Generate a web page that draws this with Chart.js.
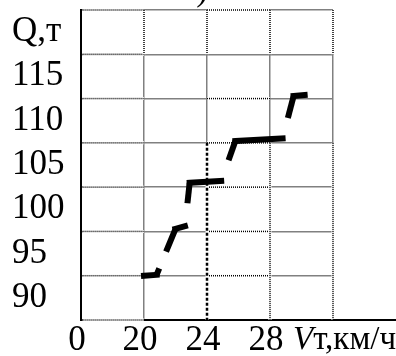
<!DOCTYPE html>
<html>
<head>
<meta charset="utf-8">
<script src="https://cdn.jsdelivr.net/npm/chart.js@4/dist/chart.umd.min.js"></script>
<style>
    html, body { margin: 0; padding: 0; background: #fff; }
    #wrap { width: 396px; height: 356px; }
</style>
</head>
<body>
<div id="wrap"><canvas id="q_v_graph"></canvas></div>
<script>
// скорость (км/ч) и масса (т) в изломах ступенчатой линии
const speed_kmh = [20.0, 20.8, 22.0, 22.6, 22.9, 24.9, 25.8, 28.8, 29.5, 30.2];
const mass_t    = [90.0, 90.1, 95.3, 95.6, 100.5, 100.7, 105.2, 105.5, 110.3, 110.4];

// ось x разорвана: первая линия сетки подписана "0"
const x_ticks  = [16, 20, 24, 28, 32];
const x_labels = ["0", "20", "24", "28", ""];
const y_ticks  = [85, 90, 95, 100, 105, 110, 115, 120];
const y_labels = ["", "90", "95", "100", "105", "110", "115", "Q,т"];

// штрихи на наклонных участках (горизонтальные сплошные)
const slope_dash = [[], [7, 18, 60], [], [0, 23, 60], [], [0, 22, 60], [], [0, 21, 60], []];

const FONT = { family: "'Liberation Serif', 'Times New Roman', serif", size: 35 };

const paper_plugin = {
    id: "paper",
    beforeDatasetsDraw(chart) {
        const ctx = chart.ctx;
        const sx = chart.scales.x, sy = chart.scales.y;
        function dotted(x1, y1, x2, y2, w, dash) {
            const a = [sx.getPixelForValue(x1), sy.getPixelForValue(y1)];
            const b = [sx.getPixelForValue(x2), sy.getPixelForValue(y2)];
            ctx.save();
            ctx.strokeStyle = "#fff";
            ctx.lineWidth = 3;
            ctx.beginPath(); ctx.moveTo(a[0], a[1]); ctx.lineTo(b[0], b[1]); ctx.stroke();
            ctx.strokeStyle = "#000";
            ctx.lineWidth = w;
            ctx.setLineDash(dash);
            ctx.beginPath(); ctx.moveTo(a[0], a[1]); ctx.lineTo(b[0], b[1]); ctx.stroke();
            ctx.restore();
        }
        // левый столбец: пунктирные горизонтали
        for (let v of y_ticks) {
            dotted(16.1, v, 20, v, 1.5, [1, 1]);
        }
        // верхний ряд: пунктирные вертикали
        for (let v of [20, 24, 28, 32]) {
            dotted(v, 120, v, 115, 1.5, [1, 1]);
        }
        // столбец 24-28
        for (let v of [90, 95, 100, 105, 110, 120]) {
            dotted(24, v, 28, v, 1.5, [1, 1]);
        }
        dotted(24, 105, 24, 85, 2.5, [3, 2]);
        dotted(28, 105, 28, 85, 1.5, [1, 1]);
        dotted(32, 105, 32, 85, 1.5, [1, 1]);
    },
    afterDraw(chart) {
        const ctx = chart.ctx;
        const area = chart.chartArea;
        const sx = chart.scales.x;
        ctx.save();
        // ось x продолжается до края
        ctx.strokeStyle = "#000";
        ctx.lineWidth = 2;
        ctx.beginPath();
        ctx.moveTo(area.right, area.bottom);
        ctx.lineTo(chart.width, area.bottom);
        ctx.stroke();
        // подпись оси x
        ctx.fillStyle = "#000";
        ctx.textBaseline = "alphabetic";
        ctx.textAlign = "left";
        let x0 = area.right - 40;
        ctx.font = "italic 33px 'Liberation Serif'";
        ctx.fillText("V", x0, area.bottom + 29);
        x0 += ctx.measureText("V").width;
        ctx.font = "33px 'Liberation Serif'";
        ctx.fillText("т,км/ч", x0, area.bottom + 29);
        // обрезанная подпись рисунка сверху
        ctx.font = "35px 'Liberation Serif'";
        ctx.textAlign = "right";
        ctx.fillText("б)", sx.getPixelForValue(24) + 1, 0);
        ctx.restore();
    }
};

window.addEventListener("load", function () {
    const points = [];
    for (let i = 0; i < speed_kmh.length; i++) {
        points.push({ x: speed_kmh[i], y: mass_t[i] });
    }

    const ctx = document.getElementById("q_v_graph").getContext("2d");
    new Chart(ctx, {
        type: "line",
        data: {
            datasets: [{
                data: points,
                borderColor: "#000",
                borderWidth: 6,
                pointRadius: 0,
                fill: false,
                segment: {
                    borderDash: (c) => slope_dash[c.p0DataIndex],
                    borderCapStyle: (c) => slope_dash[c.p0DataIndex].length ? "butt" : "square"
                }
            }]
        },
        options: {
            responsive: true,
            maintainAspectRatio: false,
            animation: false,
            layout: { padding: { left: 12, top: 10, right: 63, bottom: 0 } },
            plugins: {
                legend: { display: false },
                tooltip: { enabled: false }
            },
            scales: {
                x: {
                    type: "linear",
                    min: 16,
                    max: 32,
                    afterBuildTicks: (s) => { s.ticks = x_ticks.map((v) => ({ value: v })); },
                    afterFit: (s) => { s.height = 36; s.paddingLeft = 0; s.paddingRight = 0; },
                    ticks: {
                        callback: (v) => x_labels[x_ticks.indexOf(v)],
                        font: FONT,
                        color: "#000",
                        padding: 0,
                        labelOffset: -4,
                        maxRotation: 0,
                        autoSkip: false
                    },
                    grid: { color: "#808080", lineWidth: 1.5, drawTicks: false },
                    border: { color: "#000", width: 2 }
                },
                y: {
                    type: "linear",
                    min: 85,
                    max: 120,
                    afterBuildTicks: (s) => { s.ticks = y_ticks.map((v) => ({ value: v })); },
                    afterFit: (s) => { s.width = 69; s.paddingTop = 0; s.paddingBottom = 0; },
                    ticks: {
                        callback: (v) => y_labels[y_ticks.indexOf(v)],
                        font: FONT,
                        color: "#000",
                        labelOffset: 22,
                        crossAlign: "far",
                        autoSkip: false
                    },
                    grid: { color: "#808080", lineWidth: 1.5, drawTicks: false },
                    border: { color: "#000", width: 2 }
                }
            }
        },
        plugins: [paper_plugin]
    });
});
</script>
</body>
</html>
